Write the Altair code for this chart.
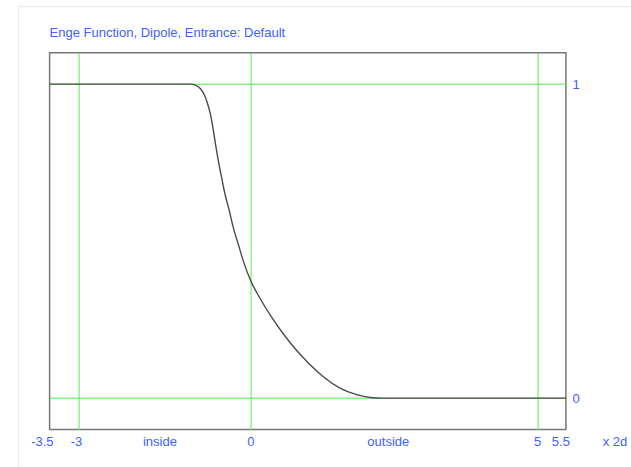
import altair as alt
import pandas as pd

# Curve (Enge function)
x_vals = [-3.5, -1.05, -0.95, -0.87, -0.80, -0.75, -0.70, -0.655, -0.61, -0.559,
          -0.50, -0.443, -0.368, -0.298, -0.211, -0.124, 0.0, 0.167, 0.399, 0.690,
          0.981, 1.271, 1.562, 1.853, 2.085, 2.3, 5.5]
y_vals = [1.0, 1.0, 0.996, 0.985, 0.965, 0.94, 0.907, 0.864, 0.811, 0.756,
          0.701, 0.650, 0.597, 0.543, 0.490, 0.437, 0.376, 0.318, 0.250, 0.177,
          0.117, 0.068, 0.032, 0.011, 0.002, 0.0, 0.0]

# Bottom labels
x_label_values = [-3.5, -3, -1.35, 0, 2.7, 5, 5.5, 6.5]
x_label_text = ["-3.5", "-3", "inside", "0", "outside", "5", "5.5", "x 2d"]

x_grid = [-3, 0, 5]
y_grid = [0, 1]

title_text = "Enge Function, Dipole, Entrance: Default"

BLUE = "#4060ff"
GREEN = "#50ee50"
FONT = "Liberation Sans"

W, H = 516.3, 376.8

curve_df = pd.DataFrame({"x": x_vals, "y": y_vals})
lab_df = pd.DataFrame({"x": x_label_values, "t": x_label_text})

xs = alt.Scale(domain=[-3.5, 5.5], nice=False, zero=False)
ys = alt.Scale(domain=[-0.1, 1.1], nice=False, zero=False)

curve = alt.Chart(curve_df).mark_line(
    color="#4a4a4a", strokeWidth=1.4, interpolate="monotone"
).encode(
    x=alt.X("x:Q", scale=xs, axis=alt.Axis(
        values=x_grid, grid=True, gridColor=GREEN, gridWidth=1, gridOpacity=1,
        labels=False, ticks=False, domain=False, title=None)),
    y=alt.Y("y:Q", scale=ys, axis=alt.Axis(
        orient="right", values=y_grid, grid=True, gridColor=GREEN, gridWidth=1,
        gridOpacity=1, ticks=False, domain=False, title=None, format="d",
        labelColor=BLUE, labelFont=FONT, labelFontSize=13, labelPadding=6,
        labelBaseline="middle")),
)

labels = alt.Chart(lab_df).mark_text(
    color=BLUE, font=FONT, fontSize=13, align="right", baseline="middle", dx=4
).encode(
    x=alt.X("x:Q", scale=xs),
    y=alt.value(389),
    text="t:N",
)

one = pd.DataFrame({"a": [0]})
title = alt.Chart(pd.DataFrame({"t": [title_text]})).mark_text(
    color=BLUE, font=FONT, fontSize=13, align="left", baseline="alphabetic"
).encode(x=alt.value(0), y=alt.value(-15.4), text="t:N")

frame_top = alt.Chart(one).mark_rule(color="#e3e3e3", strokeWidth=1).encode(
    x=alt.value(-31.3), x2=alt.value(700), y=alt.value(-46)
)
frame_left = alt.Chart(one).mark_rule(color="#e3e3e3", strokeWidth=1).encode(
    x=alt.value(-31.3), y=alt.value(-46), y2=alt.value(600)
)

chart = alt.layer(frame_top, frame_left, curve, labels, title).properties(
    width=W, height=H,
    background="white",
    autosize=alt.AutoSizeParams(type="none"),
    padding={"left": 49.6, "top": 52.7, "right": 65.1, "bottom": 37.5},
).configure_view(stroke="#777777", strokeWidth=1.5)

chart.save("out.html", embed_options={"renderer": "svg", "actions": False})
